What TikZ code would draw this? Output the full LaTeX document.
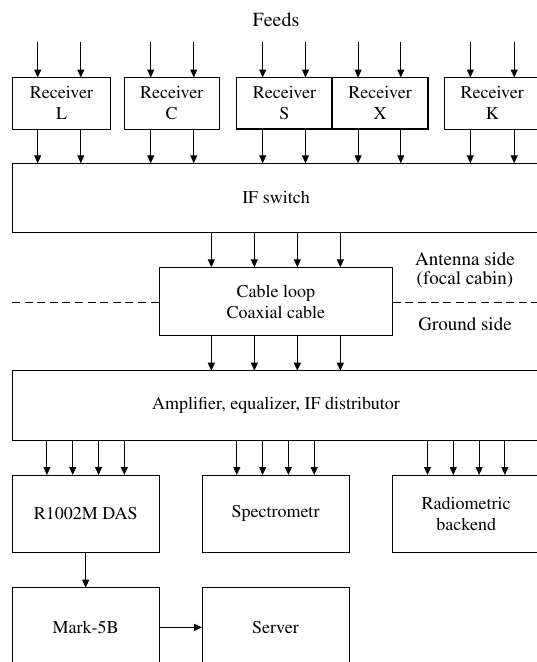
\documentclass[tikz,border=0pt]{standalone}
\usepackage[T1]{fontenc}
\renewcommand{\rmdefault}{ptm}
\usetikzlibrary{arrows.meta}
\begin{document}
\begin{tikzpicture}[x=1pt,y=-1pt,
  box/.style={draw, line width=1pt, inner sep=0pt, outer sep=0pt, anchor=north west, align=center, font=\fontsize{18}{21}\selectfont},
  thickbox/.style={box, line width=1.7pt},
  arr/.style={-{Triangle[length=8pt,width=7pt]}, line width=1pt},
  side/.style={font=\fontsize{19}{18}\selectfont, anchor=base, inner sep=0pt},
  dsh/.style={line width=1pt, dash pattern=on 8pt off 4.6pt}]
\useasboundingbox (0,0) rectangle (537,662);
\clip (0,0) rectangle (537,662);

% title
\node[side, font=\fontsize{20}{20}\selectfont] (feeds) at (276,26.7) {Feeds};

% receivers
\node[box, minimum width=97.6pt, minimum height=51.5pt] (recL) at (12.7,77.5) {Receiver\\L};
\node[box, minimum width=94.9pt, minimum height=51.5pt] (recC) at (124.3,77.5) {Receiver\\C};
\node[thickbox, minimum width=95.6pt, minimum height=51.5pt] (recS) at (236.6,77.5) {Receiver\\S};
\node[thickbox, minimum width=95.8pt, minimum height=51.5pt] (recX) at (332.2,77.5) {Receiver\\X};
\node[box, minimum width=95.4pt, minimum height=51.5pt] (recK) at (444.6,77.5) {Receiver\\K};

% IF switch
\node[box, minimum width=528pt, minimum height=69pt] (ifsw) at (12,163.3) {IF switch};

\foreach \n/\a/\b in {recL/-23.8/19.3, recC/-21/22, recS/-21.7/21.1, recX/-22/20.7, recK/-22/21.9} {
  \foreach \d in {\a,\b} {
    \draw[arr] ([xshift=\d pt, yshift=35.8pt]\n.north) -- ([xshift=\d pt]\n.north);
    \draw[arr] ([xshift=\d pt]\n.south) -- ([xshift=\d pt]\n.south |- ifsw.north);
  }
}

% cable loop
\node[box, minimum width=233.7pt, minimum height=68.4pt] (cable) at (159,267.3) {Cable loop\\Coaxial cable};

% amplifier
\node[box, minimum width=528pt, minimum height=69.3pt] (amp) at (12,370.7) {Amplifier, equalizer, IF distributor};

\foreach \d in {-64.5,-21.5,21.5,64.5} {
  \draw[arr] ([xshift=\d pt]cable.north |- ifsw.south) -- ([xshift=\d pt]cable.north);
  \draw[arr] ([xshift=\d pt]cable.south) -- ([xshift=\d pt]cable.south |- amp.north);
}

% antenna / ground split
\coordinate (dL) at (12,302);
\coordinate (dR) at (540,302);
\draw[dsh] (dL) -- (dL -| cable.west);
\draw[dsh] (dR -| cable.east) -- (dR);
\node[side] (ant1) at (465,265.5) {Antenna side};
\node[side] (ant2) at (465,284) {(focal cabin)};
\node[side] (gnd) at (465,330.5) {Ground side};

% backends
\node[box, minimum width=146.7pt, minimum height=77.3pt] (das) at (12.3,475) {R1002M DAS};
\node[box, minimum width=147pt, minimum height=77.3pt] (spec) at (202,475) {Spectrometr};
\node[box, minimum width=147pt, minimum height=77.3pt] (rad) at (392.7,475) {Radiometric\\backend};

\foreach \n in {das,spec,rad} {
  \foreach \d in {-38.7,-12.9,12.9,38.7} {
    \draw[arr] ([xshift=\d pt]\n.north |- amp.south) -- ([xshift=\d pt]\n.north);
  }
}

% recording
\node[box, minimum width=146.7pt, minimum height=79.3pt] (mark) at (12.3,587.7) {Mark-5B};
\node[box, minimum width=147pt, minimum height=79.3pt] (server) at (202,587.7) {Server};

\draw[arr] (das.south) -- (mark.north);
\draw[arr] (mark.east) -- (server.west);
\end{tikzpicture}
\end{document}
